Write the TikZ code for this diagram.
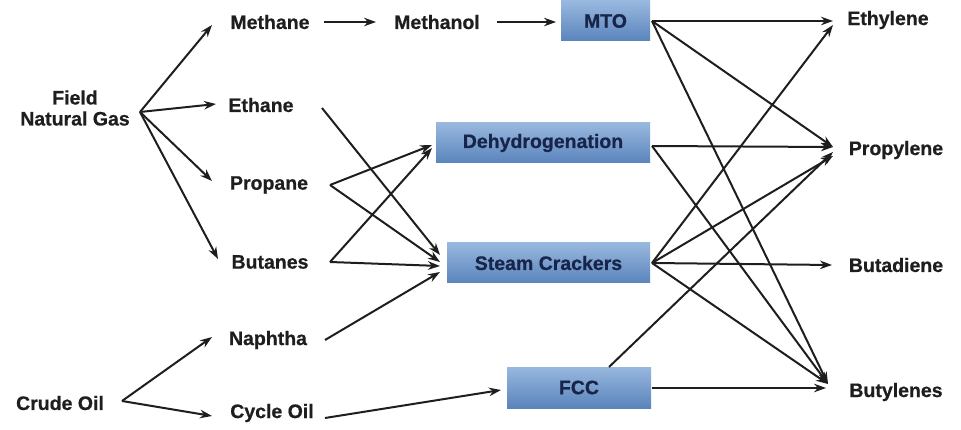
\documentclass[tikz,border=0pt]{standalone}
\usepackage{fontspec}
\setmainfont{Liberation Sans}
\newfontfamily\heavy[FakeBold=0.6]{Liberation Sans Bold}
\usetikzlibrary{arrows.meta}
\definecolor{txt}{HTML}{1E1E1E}
\definecolor{boxtxt}{HTML}{18254A}
\definecolor{boxtop}{HTML}{98B8DE}
\definecolor{boxbot}{HTML}{5A84BC}
\begin{document}
\begin{tikzpicture}[x=1pt,y=-1pt,
  lbl/.style={text=txt,font=\fontsize{19.5}{21}\heavy,inner sep=0pt,align=center},
  proc/.style={top color=boxtop,bottom color=boxbot,draw=none,inner sep=0pt,
     text=boxtxt,font=\fontsize{19.5}{21}\heavy},
  arr/.style={-{Stealth[length=12pt,width=8.5pt]},line width=2pt,draw=txt}]
\useasboundingbox (0,0) rectangle (961,430);
% labels
\node[lbl] (fng) at (75,108) {Field\\Natural Gas};
\node[lbl] (methane) at (270,22) {Methane};
\node[lbl] (methanol) at (437,22) {Methanol};
\node[lbl] (ethane) at (261,105) {Ethane};
\node[lbl] (propane) at (269,185) {Propane};
\node[lbl] (butanes) at (270,262) {Butanes};
\node[lbl] (naphtha) at (268,340) {Naphtha};
\node[lbl] (crude) at (60,403) {Crude Oil};
\node[lbl] (cycle) at (272,413) {Cycle Oil};
\node[lbl] (ethylene) at (888,20) {Ethylene};
\node[lbl] (propylene) at (896,150) {Propylene};
\node[lbl] (butadiene) at (896,265) {Butadiene};
\node[lbl] (butylenes) at (896,392) {Butylenes};
% process boxes
\node[proc,minimum width=89pt,minimum height=40pt] (mto) at (605.5,21) {MTO};
\node[proc,minimum width=214pt,minimum height=40pt] (dehydro) at (543,143) {Dehydrogenation};
\node[proc,minimum width=203pt,minimum height=40pt] (steam) at (548.5,263) {Steam Crackers};
\node[proc,minimum width=144pt,minimum height=41pt] (fcc) at (579,387.5) {FCC};
% junction / end points
\coordinate (fngout) at (140,112);
\coordinate (crudeout) at (122,401);
\coordinate (methanein) at (212,25);
\coordinate (ethanein) at (216,104);
\coordinate (propanein) at (212,181);
\coordinate (butanesin) at (218,259);
\coordinate (naphthain) at (212,337);
\coordinate (cyclein) at (212,416);
\coordinate (methaneout) at (324,22);
\coordinate (methanolin) at (376,22);
\coordinate (methanolout) at (497,22);
\coordinate (mtoin) at (556,22);
\coordinate (ethaneout) at (322,108);
\coordinate (propaneout) at (330,185);
\coordinate (butanesout) at (330,262);
\coordinate (naphthaout) at (325,340);
\coordinate (cycleout) at (325,418);
\coordinate (dehydroin1) at (432,145);
\coordinate (dehydroin2) at (432,148);
\coordinate (steamin1) at (440,255);
\coordinate (steamin2) at (440,262);
\coordinate (steamin3) at (440,266);
\coordinate (steamin4) at (440,272);
\coordinate (fccin) at (501,390);
\coordinate (mtoout) at (652,21);
\coordinate (dehydroout) at (652,146);
\coordinate (steamout) at (652,263);
\coordinate (fcctop) at (609,367);
\coordinate (fccout) at (652,388);
\coordinate (ethylenein1) at (833,21);
\coordinate (ethylenein2) at (833,25);
\coordinate (propylenein1) at (833,147);
\coordinate (propylenein2) at (833,152);
\coordinate (propylenein3) at (833,156);
\coordinate (butadienein) at (832,265);
\coordinate (butylenesin1) at (828,384);
\coordinate (butylenesin2) at (826,388);
% left side
\draw[arr] (fngout) -- (methanein);
\draw[arr] (fngout) -- (ethanein);
\draw[arr] (fngout) -- (propanein);
\draw[arr] (fngout) -- (butanesin);
\draw[arr] (crudeout) -- (naphthain);
\draw[arr] (crudeout) -- (cyclein);
\draw[arr] (methaneout) -- (methanolin);
\draw[arr] (methanolout) -- (mtoin);
\draw[arr] (ethaneout) -- (steamin1);
\draw[arr] (propaneout) -- (dehydroin1);
\draw[arr] (propaneout) -- (steamin2);
\draw[arr] (butanesout) -- (dehydroin2);
\draw[arr] (butanesout) -- (steamin3);
\draw[arr] (naphthaout) -- (steamin4);
\draw[arr] (cycleout) -- (fccin);
% right side
\draw[arr] (mtoout) -- (ethylenein1);
\draw[arr] (mtoout) -- (propylenein1);
\draw[arr] (mtoout) -- (butylenesin1);
\draw[arr] (dehydroout) -- (propylenein1);
\draw[arr] (dehydroout) -- (butylenesin1);
\draw[arr] (steamout) -- (ethylenein2);
\draw[arr] (steamout) -- (propylenein3);
\draw[arr] (steamout) -- (butadienein);
\draw[arr] (steamout) -- (butylenesin1);
\draw[arr] (fcctop) -- (propylenein2);
\draw[arr] (fccout) -- (butylenesin2);
\end{tikzpicture}
\end{document}
